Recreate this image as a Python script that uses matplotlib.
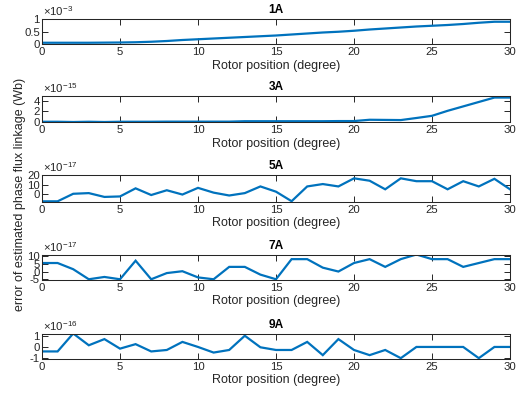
import numpy as np
import matplotlib
matplotlib.use("Agg")
import matplotlib.pyplot as plt

plt.rcParams['font.family'] = ['Liberation Sans', 'DejaVu Sans']
plt.rcParams['mathtext.fontset'] = 'custom'
plt.rcParams['mathtext.rm'] = 'Liberation Sans'
plt.rcParams['mathtext.it'] = 'Liberation Sans:italic'

rotor_pos = list(range(0, 31))

titles = ["1A", "3A", "5A", "7A", "9A"]
exponents = [-3, -15, -17, -17, -16]

err_1A = [0.05, 0.05, 0.05, 0.05, 0.055, 0.06, 0.07, 0.09, 0.12, 0.16, 0.19,
          0.22, 0.25, 0.28, 0.31, 0.34, 0.38, 0.42, 0.46, 0.49, 0.53,
          0.58, 0.62, 0.66, 0.70, 0.73, 0.76, 0.80, 0.85, 0.89, 0.89]
err_3A = [0.0, 0.0, -0.05, 0.0, -0.05, 0.0, 0.0, 0.0, 0.02, 0.02, 0.02,
          0.02, 0.02, 0.1, 0.1, 0.1, 0.1, 0.1, 0.1, 0.13, 0.13,
          0.38, 0.35, 0.32, 0.72, 1.14, 2.1, 2.95, 3.8, 4.65, 4.65]
err_5A = [-7.6, -7.6, 0.3, 1.0, -3.0, -2.5, 6.0, -1.0, 4.0, -0.5, 6.5,
          1.5, -1.5, 1.0, 8.0, 2.5, -7.5, 8.0, 10.5, 8.0, 16.5,
          14.0, 5.0, 16.5, 13.5, 13.5, 5.0, 13.5, 8.0, 16.0, 5.0]
err_7A = [5.5, 5.5, 1.5, -5.0, -3.5, -5.0, 7.0, -5.0, -1.0, 0.2, -3.8,
          -5.0, 3.0, 3.0, -2.0, -5.0, 8.0, 8.0, 2.5, 0.0, 5.5,
          8.0, 3.0, 8.0, 11.0, 8.0, 8.0, 3.0, 5.5, 8.0, 8.0]
err_9A = [-0.4, -0.4, 1.2, 0.15, 0.7, -0.15, 0.25, -0.4, -0.27, 0.45, 0.0,
          -0.5, -0.27, 1.0, -0.03, -0.27, -0.27, 0.45, -0.73, 0.7, -0.27,
          -0.73, -0.27, -1.0, 0.0, 0.0, 0.0, 0.0, -1.0, 0.0, 0.0]

series = [err_1A, err_3A, err_5A, err_7A, err_9A]
y_limits = [(0, 1), (-0.05, 4.95), (-7.8, 20), (-5.15, 11.0), (-1.03, 1.2)]
y_ticks = [[0, 0.5, 1], [0, 2, 4], [0, 10, 20], [-5, 0, 5, 10], [-1, 0, 1]]
y_ticklabels = [["0", "0.5", "1"], ["0", "2", "4"], ["0", "10", "20"],
                ["-5", "0", "5", "10"], ["-1", "0", "1"]]

W, H = 526, 394
fig = plt.figure(figsize=(W / 100, H / 100), dpi=100)

left_px, right_px = 42, 510
panel_px = [(19, 44), (96, 122), (175, 201.5), (254.5, 279.5), (333.5, 358.5)]

line_color = "#0072BD"
axis_color = "#262626"

for i in range(5):
    top, bot = panel_px[i]
    ax = fig.add_axes([left_px / W, (H - bot) / H, (right_px - left_px) / W, (bot - top) / H])
    ax.plot(rotor_pos, series[i], color=line_color, lw=1.6, solid_joinstyle='miter')
    ax.set_xlim(0, 30)
    ax.set_ylim(*y_limits[i])
    ax.set_xticks(range(0, 31, 5))
    ax.set_yticks(y_ticks[i])
    ax.set_yticklabels(y_ticklabels[i])
    ax.tick_params(direction='in', length=4.5, width=0.7, colors=axis_color,
                   labelsize=8.2, top=True, right=True, pad=2.5)
    ax.tick_params(axis='y', pad=1.5)
    for s in ax.spines.values():
        s.set_color(axis_color)
        s.set_linewidth(0.75)
    ax.set_xlabel("Rotor position (degree)", fontsize=9, color=axis_color, labelpad=1.5)
    ax.set_title(titles[i], fontsize=8.6, fontweight='bold', color='black', pad=4)
    ax.text(0.002, 1.03, r"$\times10^{%d}$" % exponents[i], transform=ax.transAxes,
            fontsize=8.2, color=axis_color, ha='left', va='bottom')

fig.text(20 / W, 1 - 194 / H, "error of estimated phase flux linkage (Wb)",
         rotation=90, fontsize=9, color=axis_color, ha='center', va='center')

fig.savefig("out.png", dpi=100)
